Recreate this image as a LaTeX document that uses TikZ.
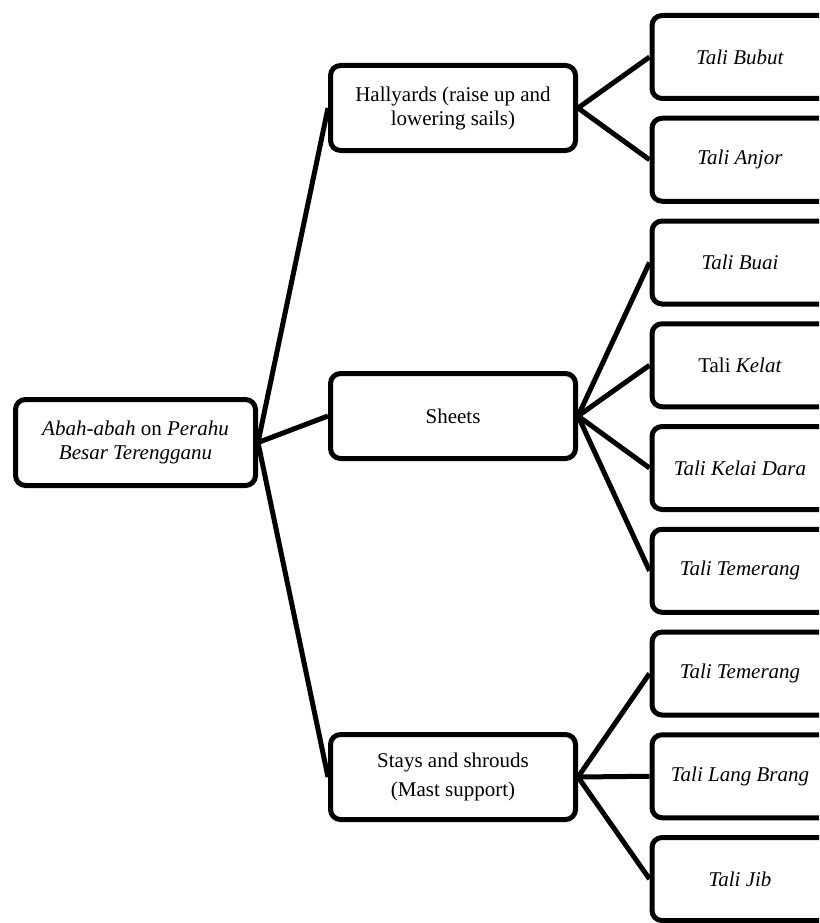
\documentclass[tikz,border=0pt]{standalone}
\usepackage{fontspec}
\setmainfont{Liberation Serif}
\begin{document}
\begin{tikzpicture}[x=1pt,y=-1pt,
  box/.style={draw=black,line width=5pt,rounded corners=10pt,fill=white,
    align=center,inner sep=0pt,font=\fontsize{21}{24}\selectfont},
  rootbox/.style={box,minimum width=240pt,minimum height=86pt},
  midbox/.style={box,minimum width=245pt,minimum height=85pt},
  leafbox/.style={box,minimum width=190pt,minimum height=83pt},
  link/.style={draw=black,line width=5pt}]
\useasboundingbox (0,0) rectangle (819,923);
\clip (0,0) rectangle (819,923);
% root
\node[rootbox] (root) at (135.5,442.5) {\textit{Abah-abah} on \textit{Perahu}\\\textit{Besar Terengganu}};
% middle level
\node[midbox] (hal) at (453,108) {Hallyards (raise up and\\lowering sails)};
\node[midbox] (sheet) at (453,416) {Sheets};
\node[midbox] (stay) at (453,777) {Stays and shrouds\\[5pt](Mast support)};
% leaves (left edge at 647)
\node[leafbox,anchor=west] (l1) at (649.5,57) {\hspace*{-14pt}\textit{Tali Bubut}};
\node[leafbox,anchor=west] (l2) at (649.5,159.75) {\hspace*{-14pt}\textit{Tali Anjor}};
\node[leafbox,anchor=west] (l3) at (649.5,262.5) {\hspace*{-14pt}\textit{Tali Buai}};
\node[leafbox,anchor=west] (l4) at (649.5,365.25) {\hspace*{-14pt}Tali \textit{Kelat}};
\node[leafbox,anchor=west] (l5) at (649.5,468) {\hspace*{-14pt}\textit{Tali Kelai Dara}};
\node[leafbox,anchor=west] (l6) at (649.5,570.75) {\hspace*{-14pt}\textit{Tali Temerang}};
\node[leafbox,anchor=west] (l7) at (649.5,673.5) {\hspace*{-14pt}\textit{Tali Temerang}};
\node[leafbox,anchor=west] (l8) at (649.5,776.25) {\hspace*{-14pt}\textit{Tali Lang Brang}};
\node[leafbox,anchor=west] (l9) at (649.5,879) {\hspace*{-14pt}\textit{Tali Jib}};
% connectors
\draw[link] (root.east) -- (hal.west);
\draw[link] (root.east) -- (sheet.west);
\draw[link] (root.east) -- (stay.west);
\draw[link] (hal.east) -- (l1.west);
\draw[link] (hal.east) -- (l2.west);
\draw[link] (sheet.east) -- (l3.west);
\draw[link] (sheet.east) -- (l4.west);
\draw[link] (sheet.east) -- (l5.west);
\draw[link] (sheet.east) -- (l6.west);
\draw[link] (stay.east) -- (l7.west);
\draw[link] (stay.east) -- (l8.west);
\draw[link] (stay.east) -- (l9.west);
\end{tikzpicture}
\end{document}
